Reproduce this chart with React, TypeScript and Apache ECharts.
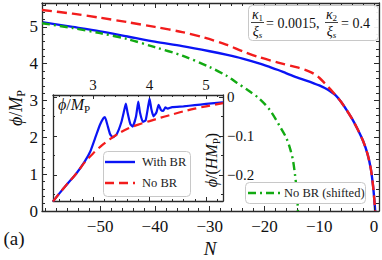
import React, { useEffect, useRef } from "react";
import * as echarts from "echarts";

// ---- tick values ----
const mainXTicks = [-50, -40, -30, -20, -10, 0];
const mainYTicks = [0, 1, 2, 3, 4, 5];
const insetXTicks = [3, 4, 5];
const insetYTicks = [-0.2, -0.1, 0];

// ---- main panel: phi/M_P versus N ----
const withBR: [number, number][] = [
  [-60.6, 5.13], [-55, 5.0], [-50, 4.88], [-45, 4.74], [-40, 4.6], [-35, 4.48],
  [-30, 4.34], [-26.8, 4.24], [-24, 4.14], [-21, 4.01], [-19, 3.91], [-17.5, 3.83],
  [-16, 3.74], [-14.1, 3.63], [-12.5, 3.55], [-11, 3.47], [-10, 3.41], [-9, 3.34],
  [-8, 3.25], [-7, 3.14], [-6, 2.96], [-5, 2.74], [-4, 2.5], [-3, 2.22], [-2, 1.9],
  [-1.2, 1.55], [-0.6, 1.15], [-0.2, 0.7], [0.05, 0.3], [0.2, 0],
];
const noBR: [number, number][] = [
  [-60.6, 5.46], [-55, 5.36], [-50, 5.25], [-45, 5.13], [-40, 5.0], [-35, 4.86],
  [-31, 4.71], [-27, 4.52], [-24, 4.34], [-21, 4.18], [-17.5, 4.03], [-14, 3.9],
  [-12, 3.8], [-11, 3.73], [-10, 3.62], [-9, 3.47], [-8, 3.31], [-7, 3.14],
  [-6, 2.96], [-5, 2.74], [-4, 2.5], [-3, 2.22], [-2, 1.9], [-1.2, 1.55],
  [-0.6, 1.15], [-0.2, 0.7], [0.05, 0.3], [0.2, 0],
];
const noBRShifted: [number, number][] = [
  [-60.6, 5.1], [-55, 4.97], [-50, 4.83], [-45, 4.67], [-40, 4.45], [-35, 4.22],
  [-30, 3.91], [-27, 3.68], [-25, 3.48], [-23, 3.28], [-21, 3.06], [-19, 2.74],
  [-17.2, 2.3], [-16, 1.98], [-15.3, 1.68], [-14.8, 1.38], [-14.4, 0.95],
  [-14.1, 0.55], [-13.95, 0.2], [-13.9, 0],
];

// ---- inset: dphi/(H M_P) versus phi/M_P ----
const insetWithBR: [number, number][] = [
  [2.29, -0.268], [2.4, -0.248], [2.55, -0.222], [2.7, -0.197], [2.85, -0.166],
  [2.95, -0.14], [3.05, -0.1], [3.12, -0.072], [3.18, -0.055], [3.21, -0.052],
  [3.25, -0.07], [3.3, -0.095], [3.35, -0.104], [3.42, -0.095], [3.5, -0.065],
  [3.55, -0.035], [3.58, -0.017], [3.61, -0.04], [3.66, -0.07], [3.7, -0.076],
  [3.76, -0.05], [3.8, -0.012], [3.83, -0.04], [3.88, -0.064], [3.93, -0.06],
  [3.98, -0.02], [4.0, -0.004], [4.03, -0.03], [4.07, -0.05], [4.12, -0.04],
  [4.16, -0.02], [4.2, -0.033], [4.24, -0.036], [4.28, -0.027], [4.32, -0.03],
  [4.4, -0.026], [4.6, -0.024], [4.8, -0.021], [5.0, -0.018], [5.3, -0.014],
];
const insetNoBR: [number, number][] = [
  [2.29, -0.268], [2.4, -0.248], [2.55, -0.222], [2.7, -0.197], [2.85, -0.168],
  [3.0, -0.145], [3.15, -0.125], [3.3, -0.108], [3.45, -0.094], [3.6, -0.082],
  [3.8, -0.071], [4.0, -0.062], [4.2, -0.053], [4.4, -0.045], [4.6, -0.037],
  [4.8, -0.03], [5.0, -0.024], [5.3, -0.016],
];

const BLUE = "#0a14f5";
const RED = "#f21c1c";
const GREEN = "#12aa12";
const FRAME = "#2a2a2a";
const serif = "'Liberation Serif', 'DejaVu Serif', serif";

const steps = (a: number, b: number, s: number, skip: number[]) => {
  const out: number[] = [];
  for (let i = 0; a + i * s <= b + 1e-9; i++) {
    const v = Math.round((a + i * s) * 1000) / 1000;
    if (!skip.some((k) => Math.abs(k - v) < 1e-6)) out.push(v);
  }
  return out;
};
const fmt = (v: number) => (v < 0 ? "\u2212" + Math.abs(v) : String(v));

export default function App() {
  const ref = useRef<HTMLDivElement>(null);
  useEffect(() => {
    if (!ref.current) return;
    const chart = echarts.init(ref.current, undefined, { renderer: "svg" });

    const mX = { min: -60.6, max: 0.9 };
    const mY = { min: 0, max: 5.65 };
    const iX = { min: 2.29, max: 5.3 };
    const iY = { min: -0.267, max: 0.005 };
    const mxMinor = steps(-60, 0, 2, mainXTicks);
    const myMinor = steps(0, 5.6, 0.2, mainYTicks);
    const ixMinor = steps(2.4, 5.2, 0.2, insetXTicks);
    const iyMinor = steps(-0.25, 0, 0.05, insetYTicks);

    const ax = (
      grid: number,
      position: string,
      range: { min: number; max: number },
      ticks: number[],
      len: number,
      opts: { line?: boolean; labels?: boolean; fontSize?: number; margin?: number; z?: number } = {}
    ) => ({
      type: "value",
      gridIndex: grid,
      position,
      min: range.min,
      max: range.max,
      z: opts.z ?? 3,
      axisLine: { show: !!opts.line, onZero: false, lineStyle: { color: FRAME, width: 1.3 } },
      axisTick: { show: true, inside: true, length: len, customValues: ticks, lineStyle: { color: FRAME, width: 1 } },
      axisLabel: opts.labels
        ? { show: true, customValues: ticks, formatter: fmt, fontSize: opts.fontSize, fontFamily: serif, color: "#111", margin: opts.margin }
        : { show: false },
      splitLine: { show: false },
    });

    const option: any = {
      animation: false,
      backgroundColor: "#fff",
      grid: [
        { left: 42, top: 3, width: 337, height: 208, show: false },
        { left: 53, top: 95, width: 170, height: 106, show: true, backgroundColor: "#fff", borderWidth: 0, z: 5 },
      ],
      xAxis: [
        ax(0, "bottom", mX, mainXTicks, 5, { line: true, labels: true, fontSize: 17, margin: 7 }),
        ax(0, "bottom", mX, mxMinor, 3),
        ax(0, "top", mX, mainXTicks, 5, { line: true }),
        ax(0, "top", mX, mxMinor, 3),
        ax(1, "top", iX, insetXTicks, 4, { line: true, labels: true, fontSize: 15, margin: 3, z: 7 }),
        ax(1, "top", iX, ixMinor, 2, { z: 7 }),
        ax(1, "bottom", iX, insetXTicks, 4, { line: true, z: 7 }),
        ax(1, "bottom", iX, ixMinor, 2, { z: 7 }),
      ],
      yAxis: [
        ax(0, "left", mY, mainYTicks, 5, { line: true, labels: true, fontSize: 17, margin: 4 }),
        ax(0, "left", mY, myMinor, 3),
        ax(0, "right", mY, mainYTicks, 5, { line: true }),
        ax(0, "right", mY, myMinor, 3),
        ax(1, "right", iY, insetYTicks, 4, { line: true, labels: true, fontSize: 15, margin: 4, z: 7 }),
        ax(1, "right", iY, iyMinor, 2, { z: 7 }),
        ax(1, "left", iY, insetYTicks, 4, { line: true, z: 7 }),
        ax(1, "left", iY, iyMinor, 2, { z: 7 }),
      ],
      series: [
        {
          type: "line", name: "With BR", xAxisIndex: 0, yAxisIndex: 0, data: withBR,
          showSymbol: false, symbol: "none", smooth: 0.3, z: 2,
          lineStyle: { color: BLUE, width: 2.4 },
        },
        {
          type: "line", name: "No BR", xAxisIndex: 0, yAxisIndex: 0, data: noBR,
          showSymbol: false, symbol: "none", smooth: 0.3, z: 3,
          lineStyle: { color: RED, width: 2.4, type: [10, 5] },
        },
        {
          type: "line", name: "No BR (shifted)", xAxisIndex: 0, yAxisIndex: 0, data: noBRShifted,
          showSymbol: false, symbol: "none", smooth: 0.3, z: 3,
          lineStyle: { color: GREEN, width: 2.4, type: [8, 4, 2, 4] },
        },
        {
          type: "line", name: "inset With BR", xAxisIndex: 4, yAxisIndex: 4, data: insetWithBR,
          showSymbol: false, symbol: "none", smooth: 0.15, z: 8,
          lineStyle: { color: BLUE, width: 2.2 },
        },
        {
          type: "line", name: "inset No BR", xAxisIndex: 4, yAxisIndex: 4, data: insetNoBR,
          showSymbol: false, symbol: "none", smooth: 0.3, z: 9,
          lineStyle: { color: RED, width: 2.2, type: [9, 5] },
        },
      ],
      graphic: [
        // main y-axis title
        {
          type: "text", x: 16, y: 108, rotation: Math.PI / 2, z: 100,
          style: {
            text: "{i|ϕ}{r|/}{i|M}{s|P}", align: "center", verticalAlign: "middle", fill: "#111",
            rich: {
              i: { fontSize: 18, fontStyle: "italic", fontFamily: serif, lineHeight: 22 },
              r: { fontSize: 18, fontFamily: serif, lineHeight: 22 },
              s: { fontSize: 12, fontFamily: serif, lineHeight: 12, verticalAlign: "bottom" },
            },
          },
        },
        // x-axis title
        {
          type: "text", x: 210, y: 248, z: 100,
          style: { text: "N", font: `italic 19px ${serif}`, align: "center", verticalAlign: "middle", fill: "#111" },
        },
        // panel tag
        {
          type: "text", x: 14, y: 238, z: 100,
          style: { text: "(a)", font: `19px ${serif}`, align: "center", verticalAlign: "middle", fill: "#111" },
        },
        // inset titles
        {
          type: "text", x: 58, y: 104, z: 100,
          style: {
            text: "{i|ϕ}{r|/}{i|M}{s|P}", align: "left", verticalAlign: "middle", fill: "#111",
            rich: {
              i: { fontSize: 16, fontStyle: "italic", fontFamily: serif, lineHeight: 20 },
              r: { fontSize: 16, fontFamily: serif, lineHeight: 20 },
              s: { fontSize: 11, fontFamily: serif, lineHeight: 11, verticalAlign: "bottom" },
            },
          },
        },
        {
          type: "text", x: 211, y: 160, rotation: Math.PI / 2, z: 100,
          style: {
            text: "{i|ϕ̇}{r|/(}{i|HM}{s|P}{r|)}", align: "center", verticalAlign: "middle", fill: "#111",
            rich: {
              i: { fontSize: 16, fontStyle: "italic", fontFamily: serif, lineHeight: 20 },
              r: { fontSize: 16, fontFamily: serif, lineHeight: 20 },
              s: { fontSize: 11, fontFamily: serif, lineHeight: 11, verticalAlign: "bottom" },
            },
          },
        },
        // parameter box
        {
          type: "rect", z: 100,
          shape: { x: 248.5, y: 5.5, width: 130, height: 35, r: 4 },
          style: { fill: "rgba(255,255,255,0.92)", stroke: "#c8c8c8", lineWidth: 1 },
        },
        {
          type: "text", x: 257.5, y: 14, z: 101,
          style: {
            text: "{i|κ}{s|1}", align: "center", verticalAlign: "middle", fill: "#111",
            rich: {
              i: { fontSize: 14, fontStyle: "italic", fontFamily: serif, lineHeight: 16 },
              s: { fontSize: 9, fontFamily: serif, lineHeight: 9, verticalAlign: "bottom" },
            },
          },
        },
        { type: "line", z: 101, shape: { x1: 251, y1: 22.5, x2: 264, y2: 22.5 }, style: { stroke: "#111", lineWidth: 0.8 } },
        {
          type: "text", x: 257.5, y: 31, z: 101,
          style: {
            text: "{i|ξ}{s|s}", align: "center", verticalAlign: "middle", fill: "#111",
            rich: {
              i: { fontSize: 14, fontStyle: "italic", fontFamily: serif, lineHeight: 16 },
              s: { fontSize: 9, fontStyle: "italic", fontFamily: serif, lineHeight: 9, verticalAlign: "bottom" },
            },
          },
        },
        {
          type: "text", x: 266, y: 23, z: 101,
          style: { text: "= 0.0015,", font: `14px ${serif}`, align: "left", verticalAlign: "middle", fill: "#111" },
        },
        {
          type: "text", x: 331.5, y: 14, z: 101,
          style: {
            text: "{i|κ}{s|2}", align: "center", verticalAlign: "middle", fill: "#111",
            rich: {
              i: { fontSize: 14, fontStyle: "italic", fontFamily: serif, lineHeight: 16 },
              s: { fontSize: 9, fontFamily: serif, lineHeight: 9, verticalAlign: "bottom" },
            },
          },
        },
        { type: "line", z: 101, shape: { x1: 325, y1: 22.5, x2: 338, y2: 22.5 }, style: { stroke: "#111", lineWidth: 0.8 } },
        {
          type: "text", x: 331.5, y: 31, z: 101,
          style: {
            text: "{i|ξ}{s|s}", align: "center", verticalAlign: "middle", fill: "#111",
            rich: {
              i: { fontSize: 14, fontStyle: "italic", fontFamily: serif, lineHeight: 16 },
              s: { fontSize: 9, fontStyle: "italic", fontFamily: serif, lineHeight: 9, verticalAlign: "bottom" },
            },
          },
        },
        {
          type: "text", x: 341, y: 23, z: 101,
          style: { text: "= 0.4", font: `14px ${serif}`, align: "left", verticalAlign: "middle", fill: "#111" },
        },
        // green legend
        {
          type: "rect", z: 100,
          shape: { x: 245.5, y: 182.5, width: 120, height: 21, r: 4 },
          style: { fill: "#fff", stroke: "#c8c8c8", lineWidth: 1 },
        },
        { type: "line", z: 101, shape: { x1: 248, y1: 193, x2: 281, y2: 193 }, style: { stroke: GREEN, lineWidth: 2.4, lineDash: [8, 4, 2, 4] } },
        {
          type: "text", x: 284, y: 193, z: 101,
          style: { text: "No BR (shifted)", font: `12.5px ${serif}`, align: "left", verticalAlign: "middle", fill: "#222" },
        },
        // inset legend
        {
          type: "rect", z: 100,
          shape: { x: 103.5, y: 151.5, width: 87, height: 45, r: 4 },
          style: { fill: "#fff", stroke: "#c8c8c8", lineWidth: 1 },
        },
        { type: "line", z: 101, shape: { x1: 105, y1: 162, x2: 135, y2: 162 }, style: { stroke: BLUE, lineWidth: 2.4 } },
        {
          type: "text", x: 142, y: 162, z: 101,
          style: { text: "With BR", font: `12.5px ${serif}`, align: "left", verticalAlign: "middle", fill: "#222" },
        },
        { type: "line", z: 101, shape: { x1: 105, y1: 183, x2: 135, y2: 183 }, style: { stroke: RED, lineWidth: 2.4, lineDash: [9, 5] } },
        {
          type: "text", x: 142, y: 183, z: 101,
          style: { text: "No BR", font: `12.5px ${serif}`, align: "left", verticalAlign: "middle", fill: "#222" },
        },
      ],
    };
    chart.setOption(option);
    return () => chart.dispose();
  }, []);
  return (
    <div
      ref={ref}
      style={{ position: "fixed", left: 0, top: 0, width: 382, height: 260, background: "#fff" }}
    />
  );
}
